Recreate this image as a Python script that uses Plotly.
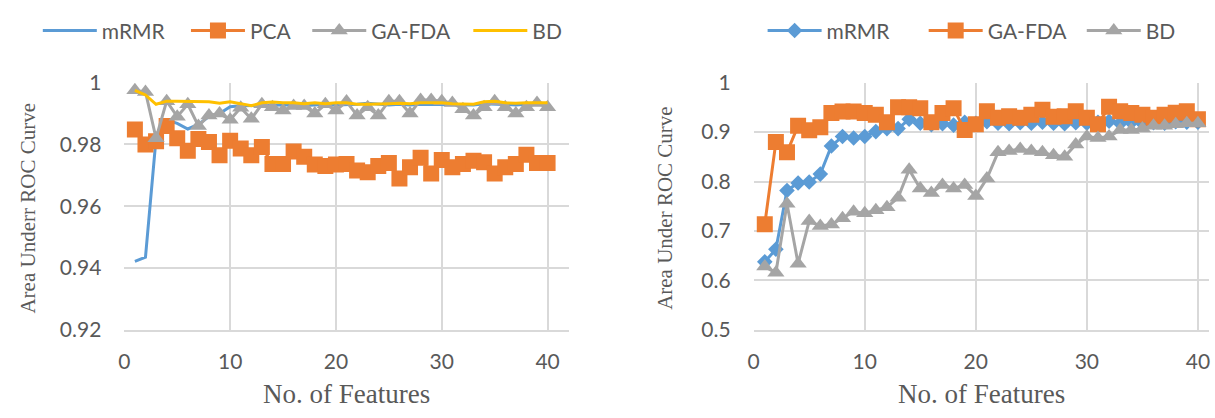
import plotly.graph_objects as go

W, H = 1215, 418

features = list(range(1, 41))

# ---- Left chart data ----
left_mrmr = [0.9422, 0.9435, 0.9820, 0.9880, 0.9868, 0.9850, 0.9865, 0.9890, 0.9900, 0.9922,
             0.9925, 0.9926, 0.9928, 0.9927, 0.9928, 0.9928, 0.9926, 0.9928, 0.9930, 0.9928,
             0.9928, 0.9930, 0.9933, 0.9930, 0.9928, 0.9930, 0.9928, 0.9930, 0.9930, 0.9928,
             0.9930, 0.9928, 0.9928, 0.9932, 0.9930, 0.9930, 0.9928, 0.9930, 0.9930, 0.9930]
left_pca = [0.9848, 0.9800, 0.9810, 0.9860, 0.9820, 0.9780, 0.9818, 0.9808, 0.9765, 0.9812,
            0.9787, 0.9765, 0.9792, 0.9737, 0.9737, 0.9777, 0.9760, 0.9735, 0.9730, 0.9735,
            0.9737, 0.9716, 0.9710, 0.9730, 0.9740, 0.9690, 0.9726, 0.9757, 0.9706, 0.9750,
            0.9726, 0.9737, 0.9747, 0.9742, 0.9706, 0.9726, 0.9737, 0.9767, 0.9740, 0.9740]
left_gafda = [0.9975, 0.9970, 0.9820, 0.9940, 0.9890, 0.9930, 0.9860, 0.9894, 0.9900, 0.9880,
              0.9919, 0.9883, 0.9930, 0.9920, 0.9910, 0.9924, 0.9924, 0.9900, 0.9930, 0.9910,
              0.9939, 0.9894, 0.9920, 0.9894, 0.9940, 0.9940, 0.9900, 0.9944, 0.9944, 0.9940,
              0.9934, 0.9914, 0.9894, 0.9920, 0.9940, 0.9920, 0.9900, 0.9920, 0.9934, 0.9920]
left_bd = [0.9975, 0.9960, 0.9930, 0.9940, 0.9940, 0.9940, 0.9938, 0.9938, 0.9933, 0.9938,
           0.9932, 0.9925, 0.9935, 0.9937, 0.9935, 0.9935, 0.9932, 0.9935, 0.9932, 0.9935,
           0.9935, 0.9930, 0.9930, 0.9932, 0.9932, 0.9933, 0.9932, 0.9935, 0.9935, 0.9935,
           0.9932, 0.9930, 0.9930, 0.9938, 0.9940, 0.9935, 0.9933, 0.9935, 0.9935, 0.9935]

# ---- Right chart data ----
right_mrmr = [0.6376, 0.6630, 0.7820, 0.7970, 0.7990, 0.8150, 0.8720, 0.8910, 0.8880, 0.8910,
              0.9010, 0.9070, 0.9070, 0.9260, 0.9180, 0.9150, 0.9170, 0.9140, 0.9200, 0.9180,
              0.9210, 0.9180, 0.9170, 0.9190, 0.9180, 0.9200, 0.9180, 0.9170, 0.9190, 0.9180,
              0.9200, 0.9220, 0.9180, 0.9200, 0.9180, 0.9190, 0.9180, 0.9210, 0.9200, 0.9200]
right_gafda = [0.7136, 0.8797, 0.8590, 0.9130, 0.9037, 0.9100, 0.9386, 0.9417, 0.9417, 0.9386,
               0.9350, 0.9200, 0.9500, 0.9500, 0.9480, 0.9200, 0.9386, 0.9480, 0.9040, 0.9160,
               0.9420, 0.9290, 0.9320, 0.9290, 0.9350, 0.9450, 0.9310, 0.9320, 0.9420, 0.9290,
               0.9160, 0.9510, 0.9420, 0.9386, 0.9350, 0.9290, 0.9350, 0.9390, 0.9420, 0.9260]
right_bd = [0.6280, 0.6155, 0.7550, 0.6340, 0.7200, 0.7100, 0.7130, 0.7260, 0.7390, 0.7360,
            0.7420, 0.7480, 0.7670, 0.8240, 0.7860, 0.7770, 0.7930, 0.7860, 0.7930, 0.7710,
            0.8060, 0.8590, 0.8620, 0.8660, 0.8620, 0.8590, 0.8530, 0.8500, 0.8750, 0.8910,
            0.8880, 0.8910, 0.9040, 0.9040, 0.9070, 0.9130, 0.9130, 0.9160, 0.9180, 0.9180]

# ---- Tick labels ----
x_tick_vals = [0, 10, 20, 30, 40]
x_tick_text = ["0", "10", "20", "30", "40"]
left_y_tick_vals = [0.92, 0.94, 0.96, 0.98, 1.0]
left_y_tick_text = ["0.92", "0.94", "0.96", "0.98", "1"]
right_y_tick_vals = [0.5, 0.6, 0.7, 0.8, 0.9, 1.0]
right_y_tick_text = ["0.5", "0.6", "0.7", "0.8", "0.9", "1"]

BLUE, ORANGE, GRAY, YELLOW = "#5B9BD5", "#ED7D31", "#A5A5A5", "#FFC000"
GRID = "#D9D9D9"
TXT = "#595959"

fig = go.Figure()

# Left chart traces
fig.add_trace(go.Scatter(x=features, y=left_mrmr, name="mRMR", mode="lines",
                         line=dict(color=BLUE, width=3), xaxis="x", yaxis="y", legend="legend2"))
fig.add_trace(go.Scatter(x=features, y=left_pca, name="PCA", mode="lines+markers",
                         line=dict(color=ORANGE, width=3),
                         marker=dict(symbol="square", size=16, color=ORANGE),
                         xaxis="x", yaxis="y", legend="legend3"))
fig.add_trace(go.Scatter(x=features, y=left_gafda, name="GA-FDA", mode="lines+markers",
                         line=dict(color=GRAY, width=3),
                         marker=dict(symbol="triangle-up", size=15, color=GRAY),
                         xaxis="x", yaxis="y", legend="legend4"))
fig.add_trace(go.Scatter(x=features, y=left_bd, name="BD", mode="lines",
                         line=dict(color=YELLOW, width=3), xaxis="x", yaxis="y", legend="legend5"))

# Right chart traces
fig.add_trace(go.Scatter(x=features, y=right_mrmr, name="mRMR", mode="lines+markers",
                         line=dict(color=BLUE, width=3),
                         marker=dict(symbol="diamond", size=12, color=BLUE),
                         xaxis="x2", yaxis="y2", legend="legend6"))
fig.add_trace(go.Scatter(x=features, y=right_gafda, name="GA-FDA", mode="lines+markers",
                         line=dict(color=ORANGE, width=3),
                         marker=dict(symbol="square", size=16, color=ORANGE),
                         xaxis="x2", yaxis="y2", legend="legend7"))
fig.add_trace(go.Scatter(x=features, y=right_bd, name="BD", mode="lines+markers",
                         line=dict(color=GRAY, width=3),
                         marker=dict(symbol="triangle-up", size=15, color=GRAY),
                         xaxis="x2", yaxis="y2", legend="legend8"))

tick_font = dict(family="Lato, Carlito, sans-serif", size=21, color=TXT)

def xaxis_cfg(domain, rng):
    return dict(domain=domain, range=rng, tickvals=x_tick_vals, ticktext=x_tick_text,
                showgrid=True, gridcolor=GRID, gridwidth=1.5, zeroline=False,
                showline=True, linecolor=GRID, linewidth=1.5, ticks="",
                tickfont=tick_font, ticklabelstandoff=12, fixedrange=True)

def yaxis_cfg(domain, rng, vals, text, anchor):
    return dict(domain=domain, range=rng, tickvals=vals, ticktext=text, anchor=anchor,
                showgrid=True, gridcolor=GRID, gridwidth=1.5, zeroline=False,
                showline=False, ticks="", tickfont=tick_font, ticklabelstandoff=22,
                fixedrange=True)

ydom = [(H - 336) / H, (H - 73) / H]

def leg(px):
    return dict(orientation="h", yanchor="middle", y=1 - 18 / H, xanchor="left", x=px / W,
                bgcolor="rgba(0,0,0,0)", itemwidth=54,
                font=dict(family="Lato, Carlito, sans-serif", size=21, color=TXT))

title_font_x = dict(family="Liberation Serif, Times New Roman, serif", size=27, color=TXT)
title_font_y = dict(family="Liberation Serif, Times New Roman, serif", size=21, color=TXT)

fig.update_layout(
    width=W, height=H, margin=dict(l=0, r=0, t=0, b=0),
    paper_bgcolor="white", plot_bgcolor="white", showlegend=True,
    xaxis=xaxis_cfg([119 / W, 566 / W], [0, 42]),
    yaxis=yaxis_cfg(ydom, [0.92, 1.0], left_y_tick_vals, left_y_tick_text, "x"),
    xaxis2=xaxis_cfg([752 / W, 1210 / W], [0, 41]),
    yaxis2=yaxis_cfg(ydom, [0.5, 1.0], right_y_tick_vals, right_y_tick_text, "x2"),
    legend2=leg(32), legend3=leg(181), legend4=leg(303), legend5=leg(465),
    legend6=leg(761), legend7=leg(923), legend8=leg(1082),
    annotations=[
        dict(text="Area Underr ROC Curve", x=22 / W, y=1 - 206 / H, xref="paper", yref="paper",
             textangle=-90, showarrow=False, font=title_font_y, xanchor="center", yanchor="middle"),
        dict(text="No. of Features", x=342 / W, y=1 - 404 / H, xref="paper", yref="paper",
             showarrow=False, font=title_font_x, xanchor="center", yanchor="middle"),
        dict(text="Area Under ROC Curve", x=662 / W, y=1 - 206 / H, xref="paper", yref="paper",
             textangle=-90, showarrow=False, font=title_font_y, xanchor="center", yanchor="middle"),
        dict(text="No. of Features", x=981 / W, y=1 - 404 / H, xref="paper", yref="paper",
             showarrow=False, font=title_font_x, xanchor="center", yanchor="middle"),
    ],
)

fig.write_html("out.html", config={"displayModeBar": False},
               post_script="document.body.style.margin='0px';")
